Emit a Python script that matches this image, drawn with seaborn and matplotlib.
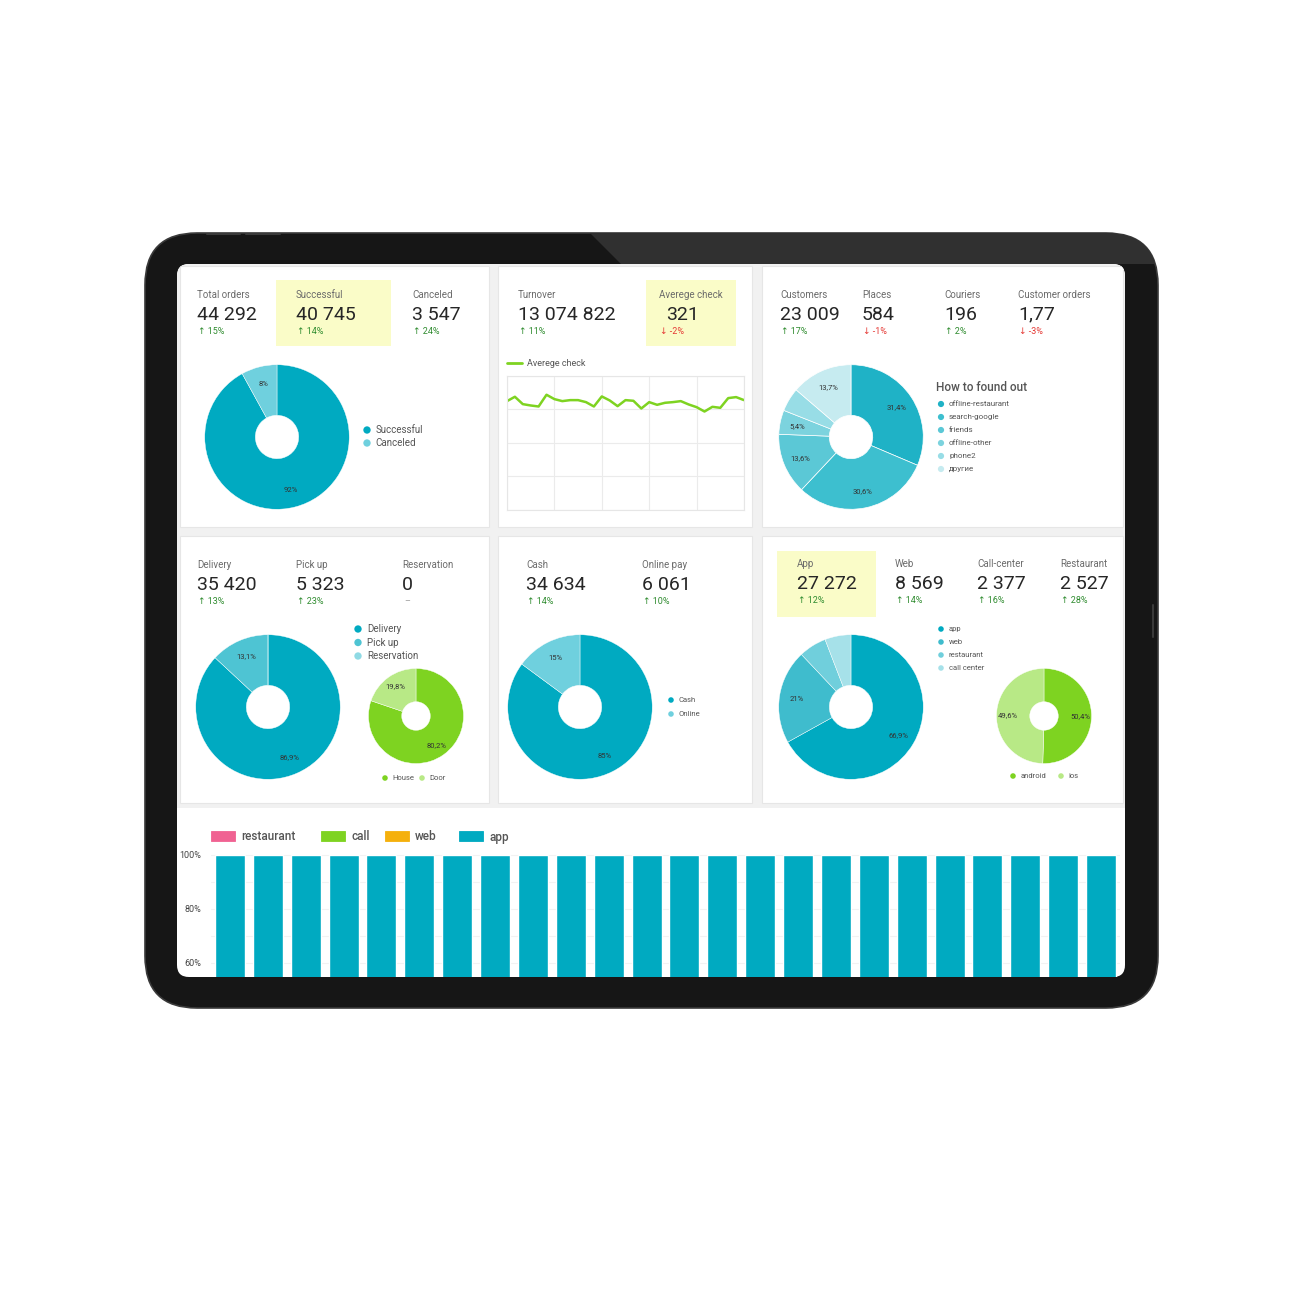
# Delivery dashboard on a tablet mockup
import pandas as pd
import seaborn as sns
import matplotlib.pyplot as plt
from matplotlib.patches import FancyBboxPatch, Rectangle, Polygon

# ---------------- data ----------------
# KPI rows: label, value, change in % (None = no change shown)
orders_labels = ["Total orders", "Successful", "Canceled"]
orders_values = ["44 292", "40 745", "3 547"]
orders_deltas = [15, 14, 24]

money_labels = ["Turnover", "Averege check"]
money_values = ["13 074 822", "321"]
money_deltas = [11, -2]

people_labels = ["Customers", "Places", "Couriers", "Customer orders"]
people_values = ["23 009", "584", "196", "1,77"]
people_deltas = [17, -1, 2, -3]

type_labels = ["Delivery", "Pick up", "Reservation"]
type_values = ["35 420", "5 323", "0"]
type_deltas = [13, 23, None]

pay_labels = ["Cash", "Online pay"]
pay_values = ["34 634", "6 061"]
pay_deltas = [14, 10]

source_labels = ["App", "Web", "Call-center", "Restaurant"]
source_values = ["27 272", "8 569", "2 377", "2 527"]
source_deltas = [12, 14, 16, 28]

# donuts
status_names = ["Successful", "Canceled"]
status_share = [92, 8]
status_text = ["92%", "8%"]

found_names = ["offline-restaurant", "search-google", "friends", "offline-other", "phone2", "другие"]
found_share = [31.4, 30.6, 13.6, 5.4, 5.3, 13.7]
found_text = ["31,4%", "30,6%", "13,6%", "5,4%", "", "13,7%"]

otype_names = ["Delivery", "Pick up", "Reservation"]
otype_share = [35420, 5323, 0]
otype_text = ["86,9%", "13,1%", ""]

door_names = ["House", "Door"]
door_share = [80.2, 19.8]
door_text = ["80,2%", "19,8%"]

cash_names = ["Cash", "Online"]
cash_share = [34634, 6061]
cash_text = ["85%", "15%"]

channel_names = ["app", "web", "restaurant", "call center"]
channel_share = [27272, 8569, 2527, 2377]
channel_text = ["66,9%", "21%", "", ""]

os_names = ["android", "ios"]
os_share = [50.4, 49.6]
os_text = ["50,4%", "49,6%"]

# average check by day
check_days = list(range(1, 32))
avg_check = [325, 338, 316, 312, 309, 344, 331, 325, 328, 328, 322, 309, 339, 327, 310, 328,
             326, 303, 322, 314, 320, 322, 325, 315, 307, 294, 308, 305, 334, 337, 328]

# stacked share of orders by channel, per day (only the top of the bars is on screen)
bar_days = ["1", "2", "3", "4", "5", "6", "7", "8", "9", "10", "11", "12",
            "13", "14", "15", "16", "17", "18", "19", "20", "21", "22", "23", "24"]
bar_restaurant = [0.062, 0.062, 0.062, 0.062, 0.062, 0.062, 0.062, 0.062, 0.062, 0.062, 0.062, 0.062,
                  0.062, 0.062, 0.062, 0.062, 0.062, 0.062, 0.062, 0.062, 0.062, 0.062, 0.062, 0.062]
bar_call = [0.058, 0.058, 0.058, 0.058, 0.058, 0.058, 0.058, 0.058, 0.058, 0.058, 0.058, 0.058,
            0.058, 0.058, 0.058, 0.058, 0.058, 0.058, 0.058, 0.058, 0.058, 0.058, 0.058, 0.058]
bar_web = [0.210, 0.210, 0.210, 0.210, 0.210, 0.210, 0.210, 0.210, 0.210, 0.210, 0.210, 0.210,
           0.210, 0.210, 0.210, 0.210, 0.210, 0.210, 0.210, 0.210, 0.210, 0.210, 0.210, 0.210]
bar_app = [0.670, 0.670, 0.670, 0.670, 0.670, 0.670, 0.670, 0.670, 0.670, 0.670, 0.670, 0.670,
           0.670, 0.670, 0.670, 0.670, 0.670, 0.670, 0.670, 0.670, 0.670, 0.670, 0.670, 0.670]

# ---------------- style ----------------
TEAL = "#00aac1"
TEAL_L = "#6fd0de"
GREEN = "#7ed321"
GREEN_L = "#b8e986"
YELLOW = "#fafcc8"
GRAY_TXT = "#6b6b6b"
LEG_TXT = "#555555"

sns.set_theme(style="white")
plt.rcParams['font.family'] = ['Roboto', 'DejaVu Sans']

W = H = 1300
fig = plt.figure(figsize=(13, 13), dpi=100)
fig.patch.set_facecolor("white")

bg = fig.add_axes([0, 0, 1, 1])
bg.set_xlim(0, W)
bg.set_ylim(H, 0)
bg.axis("off")


def add_ax(x, y, w, h):
    # pixel box (top-left origin) -> figure axes
    return fig.add_axes([x / W, 1 - (y + h) / H, w / W, h / H])


# ---------------- tablet ----------------
frame = FancyBboxPatch((145, 233), 1013, 775, boxstyle="round,pad=0,rounding_size=52",
                       fc="#161616", ec="#3a3a3a", lw=1.2)
bg.add_patch(frame)
glare = Polygon([(588, 231), (1162, 231), (1162, 264), (621, 264)], closed=True, fc="#303030", ec="none")
bg.add_patch(glare)
glare.set_clip_path(frame)
bg.plot([1153, 1153], [605, 637], color="#3a3a3a", lw=1.5)
for bx in [(207, 240), (246, 280)]:
    bg.plot(bx, [233.5, 233.5], color="#3a3a3a", lw=1.5)

screen = FancyBboxPatch((177, 264), 948, 713, boxstyle="round,pad=0,rounding_size=12",
                        fc="white", ec="none")
bg.add_patch(screen)
top_area = Rectangle((177, 264), 948, 544, fc="#f1f1f1", ec="none")
bg.add_patch(top_area)
top_area.set_clip_path(screen)

cards = [(180, 266, 309, 261), (498, 266, 254, 261), (762, 266, 361, 261),
         (180, 536, 309, 267), (498, 536, 254, 267), (762, 536, 361, 267)]
for cx, cy, cw, ch in cards:
    card = Rectangle((cx, cy), cw, ch, fc="white", ec="#e6e6e6", lw=0.8)
    bg.add_patch(card)
    card.set_clip_path(screen)

# highlighted KPI boxes
for bx, by, bw, bh in [(276, 280, 115, 66), (646, 280, 90, 66), (777, 551, 99, 66)]:
    bg.add_patch(Rectangle((bx, by), bw, bh, fc=YELLOW, ec="none"))


# ---------------- KPI texts ----------------
def kpi(x, y, label, value, delta, vdx=0):
    bg.text(x, y, label, fontsize=7, color=GRAY_TXT, va="baseline")
    bg.text(x + vdx, y + 22, value, fontsize=14, color="#262626", va="baseline")
    if delta is None:
        bg.text(x + 2, y + 36, "–", fontsize=6.5, color="#9a9a9a", va="baseline")
    elif delta >= 0:
        bg.text(x + 1, y + 36, f"↑ {delta}%", fontsize=6.5, color="#2e8b2e", va="baseline")
    else:
        bg.text(x + 1, y + 36, f"↓ {delta}%", fontsize=6.5, color="#e53935", va="baseline")


for x, lab, val, d in zip([197, 296, 412], orders_labels, orders_values, orders_deltas):
    kpi(x, 297.5, lab, val, d)
kpi(518, 297.5, money_labels[0], money_values[0], money_deltas[0])
kpi(659, 297.5, money_labels[1], money_values[1], money_deltas[1], vdx=7)
for x, lab, val, d in zip([780, 862, 944, 1018], people_labels, people_values, people_deltas):
    kpi(x, 297.5, lab, val, d)
for x, lab, val, d in zip([197, 296, 402], type_labels, type_values, type_deltas):
    kpi(x, 568, lab, val, d)
for x, lab, val, d in zip([526, 642], pay_labels, pay_values, pay_deltas):
    kpi(x, 568, lab, val, d)
for x, lab, val, d in zip([797, 895, 977, 1060], source_labels, source_values, source_deltas):
    kpi(x, 567, lab, val, d)


# ---------------- donuts ----------------
def donut(cx, cy, r, values, colors, texts, hole=0.3, fs=5.5, edge=0.3):
    ax = add_ax(cx - r, cy - r, 2 * r, 2 * r)
    wedges, labels = ax.pie(values, colors=colors, labels=texts, startangle=90, counterclock=False,
                            labeldistance=0.76,
                            wedgeprops=dict(width=1 - hole, edgecolor="white", linewidth=edge),
                            textprops=dict(fontsize=fs, color="#333333"))
    for t in labels:
        t.set_ha("center")
        t.set_va("center")
    ax.set_xlim(-1.01, 1.01)
    ax.set_ylim(-1.01, 1.01)
    return ax


def dot(x, y, label, color, fs, s):
    bg.scatter([x], [y], s=s, color=color, edgecolor="none", zorder=3)
    bg.text(x + 6 + s / 10, y, label, fontsize=fs, color=LEG_TXT, va="center")


status_colors = [TEAL, TEAL_L]
donut(277, 437, 73, status_share, status_colors, status_text)
for i, (n, c) in enumerate(zip(status_names, status_colors)):
    dot(367, 430 + 13 * i, n, c, 7, 28)

found_colors = ["#1fb2c6", "#3dbfcf", "#5bc8d6", "#7cd3de", "#98dde6", "#c6ebf0"]
donut(851, 437, 73, found_share, found_colors, found_text, edge=0.5)
bg.text(936, 391, "How to found out", fontsize=8.5, color=LEG_TXT, weight="medium", va="baseline")
for i, (n, c) in enumerate(zip(found_names, found_colors)):
    dot(941, 404 + 13 * i, n, c, 5.8, 20)

otype_colors = [TEAL, "#4ec4d3", "#8fdae4"]
donut(268, 707, 73, otype_share, otype_colors, otype_text)
for i, (n, c) in enumerate(zip(otype_names, otype_colors)):
    dot(358, 629 + 13.5 * i, n, c, 7, 28)

door_colors = [GREEN, GREEN_L]
donut(416, 716, 48, door_share, door_colors, door_text)
dot(385, 778, door_names[0], door_colors[0], 5.5, 16)
dot(422, 778, door_names[1], door_colors[1], 5.5, 16)

cash_colors = [TEAL, TEAL_L]
donut(580, 707, 73, cash_share, cash_colors, cash_text)
for i, (n, c) in enumerate(zip(cash_names, cash_colors)):
    dot(671, 700 + 14 * i, n, c, 5.5, 16)

channel_colors = [TEAL, "#3fbccd", "#70cfdc", "#a6e1e9"]
donut(851, 707, 73, channel_share, channel_colors, channel_text)
for i, (n, c) in enumerate(zip(channel_names, channel_colors)):
    dot(941, 629 + 13 * i, n, c, 5.5, 16)

os_colors = [GREEN, GREEN_L]
donut(1044, 716, 48, os_share, os_colors, os_text)
dot(1013, 776, os_names[0], os_colors[0], 5.5, 16)
dot(1061, 776, os_names[1], os_colors[1], 5.5, 16)

# ---------------- average check line ----------------
bg.plot([507, 522], [363, 363], color=GREEN, lw=2)
bg.text(527, 363, "Averege check", fontsize=6.5, color=LEG_TXT, va="center")

ax_line = add_ax(507, 376, 237, 134)
sns.lineplot(x=check_days, y=avg_check, color=GREEN, linewidth=1.8, ax=ax_line)
ax_line.set_xlim(1, 31)
ax_line.set_ylim(0, 400)
ax_line.set_xticks([1, 7, 13, 19, 25, 31])
ax_line.set_yticks([0, 100, 200, 300, 400])
ax_line.grid(True, color="#ebebeb", linewidth=0.8)
ax_line.tick_params(length=0, labelbottom=False, labelleft=False)
ax_line.set_facecolor("none")
for sp in ax_line.spines.values():
    sp.set_color("#e6e6e6")
    sp.set_linewidth(0.8)

# ---------------- stacked bars ----------------
series = ["restaurant", "call", "web", "app"]
series_colors = {"restaurant": "#f06292", "call": GREEN, "web": "#f5b00c", "app": TEAL}
bars = pd.DataFrame({"day": bar_days, "restaurant": bar_restaurant, "call": bar_call,
                     "web": bar_web, "app": bar_app})
cum = bars[series].cumsum(axis=1)

ax_bar = add_ax(211, 845, 909, 132)
for s in reversed(series):
    sns.barplot(x=bars["day"], y=cum[s], color=series_colors[s], width=0.79, saturation=1, ax=ax_bar)
ax_bar.set_xlim(-0.5, len(bar_days) - 0.5)
ax_bar.set_ylim(0.548, 1.037)
ax_bar.set_yticks([0.6, 0.7, 0.8, 0.9, 1.0])
ax_bar.set_yticklabels(["60%", "", "80%", "", "100%"], fontsize=6.5, color="#444444")
ax_bar.tick_params(length=0, pad=7, labelbottom=False)
ax_bar.yaxis.grid(True, color="#f2f2f2", linewidth=0.8)
ax_bar.set_axisbelow(True)
ax_bar.set_xlabel("")
ax_bar.set_ylabel("")
ax_bar.set_facecolor("none")
sns.despine(ax=ax_bar, left=True, bottom=True)

for x, s in zip([211, 321, 385, 459], series):
    c = series_colors[s]
    bg.add_patch(Rectangle((x, 831), 24, 10, fc=c, ec=c, lw=0.6))
    bg.text(x + 30, 837, s, fontsize=8.5, color=LEG_TXT, weight="medium", va="center")

fig.savefig("out.png", dpi=100, facecolor="white")
